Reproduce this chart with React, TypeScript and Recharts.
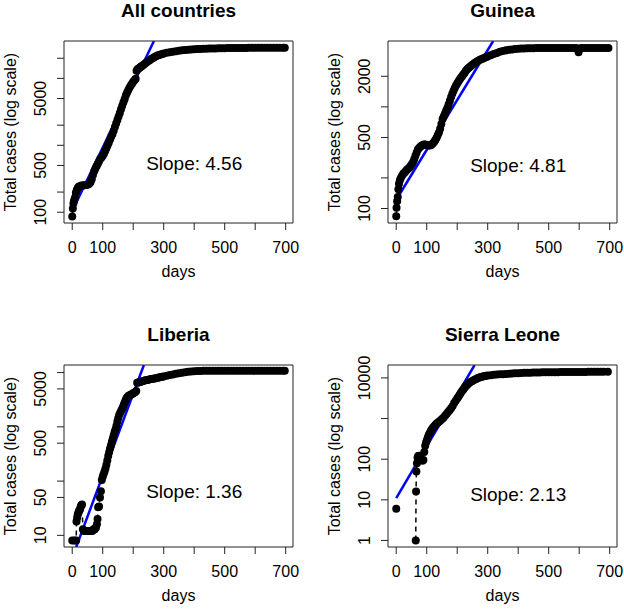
import React from 'react';
import { LineChart, Line, XAxis, YAxis, ReferenceArea, ReferenceDot } from 'recharts';

// [day, total cases]
const allCountries: [number, number][] = [
  [0, 86], [2, 114], [4, 135], [6, 150], [9, 165], [12, 195], [15, 215], [18, 230], [21, 240], [25, 245],
  [30, 250], [35, 250], [40, 252], [45, 255], [50, 258], [55, 264], [60, 280], [64, 310], [68, 360], [72, 410],
  [76, 450], [80, 490], [84, 530], [88, 580], [92, 630], [96, 660], [100, 700], [104, 750], [108, 820], [112, 900],
  [116, 1000], [120, 1100], [124, 1220], [128, 1350], [132, 1480], [136, 1650], [140, 1870], [144, 2120], [148, 2380], [152, 2700],
  [156, 3050], [160, 3450], [164, 3900], [168, 4400], [172, 4900], [176, 5600], [180, 6150], [184, 6700], [188, 7300], [192, 7800],
  [196, 8300], [200, 8900], [204, 9400], [208, 9900], [211, 13000], [214, 13700], [218, 14100], [222, 14600], [226, 15000], [230, 15500],
  [235, 16100], [240, 16800], [245, 17500], [250, 18200], [255, 18900], [260, 19600], [265, 20200], [270, 20800], [275, 21400], [280, 21900],
  [285, 22400], [290, 22800], [295, 23200], [300, 23600], [310, 24100], [320, 24600], [330, 25100], [340, 25500], [350, 25900], [360, 26300],
  [370, 26600], [380, 26900], [390, 27100], [400, 27300], [410, 27450], [420, 27600], [430, 27700], [440, 27800], [450, 27900], [460, 28000],
  [470, 28080], [480, 28150], [490, 28220], [500, 28300], [510, 28350], [520, 28400], [530, 28440], [540, 28480], [550, 28510], [560, 28540],
  [570, 28570], [580, 28590], [590, 28600], [600, 28600], [610, 28610], [620, 28620], [630, 28630], [640, 28630], [650, 28640], [660, 28640],
  [670, 28640], [680, 28640], [690, 28640], [697, 28640],
];

const guinea: [number, number][] = [
  [0, 84], [1, 102], [3, 118], [5, 130], [7, 155], [9, 175], [12, 190], [15, 200], [19, 210], [23, 220],
  [27, 225], [31, 232], [35, 240], [39, 246], [43, 252], [47, 262], [51, 272], [55, 285], [59, 305], [63, 330],
  [67, 355], [71, 380], [75, 395], [79, 405], [83, 415], [87, 422], [91, 426], [95, 426], [100, 422], [105, 418],
  [110, 416], [115, 422], [120, 435], [124, 450], [128, 470], [132, 495], [136, 525], [140, 560], [144, 610], [148, 680],
  [152, 760], [156, 810], [160, 860], [164, 920], [168, 980], [172, 1060], [176, 1150], [180, 1250], [184, 1350], [188, 1440],
  [192, 1530], [196, 1620], [200, 1700], [204, 1780], [208, 1860], [212, 1930], [216, 2000], [220, 2080], [224, 2160], [228, 2250],
  [232, 2330], [236, 2400], [240, 2460], [245, 2530], [250, 2600], [255, 2670], [260, 2740], [265, 2800], [270, 2860], [275, 2910],
  [280, 2960], [285, 3000], [290, 3050], [295, 3090], [300, 3140], [310, 3230], [320, 3320], [330, 3400], [340, 3480], [350, 3550],
  [360, 3600], [370, 3640], [380, 3680], [390, 3710], [400, 3730], [410, 3750], [420, 3760], [430, 3770], [440, 3780], [450, 3785],
  [460, 3790], [470, 3795], [480, 3800], [490, 3804], [500, 3804], [510, 3804], [520, 3804], [530, 3804], [540, 3804], [550, 3804],
  [560, 3804], [570, 3804], [580, 3804], [590, 3804], [598, 3450], [606, 3804], [616, 3804], [626, 3804], [636, 3804], [646, 3804],
  [656, 3804], [666, 3804], [676, 3804], [686, 3804], [696, 3804],
];

const liberia: [number, number][] = [
  [0, 8], [7, 8], [13, 8], [14, 18], [16, 21], [18, 24], [20, 26], [22, 28], [24, 29], [26, 31],
  [28, 34], [30, 36], [32, 37], [35, 13], [38, 12], [42, 12], [46, 12], [50, 12], [54, 12], [58, 12],
  [62, 12], [66, 12], [70, 13], [74, 13], [78, 14], [81, 16], [83, 20], [85, 33], [88, 34], [91, 50],
  [94, 65], [97, 105], [100, 120], [103, 135], [106, 150], [109, 170], [112, 200], [115, 240], [118, 290], [121, 340],
  [124, 400], [127, 460], [130, 530], [133, 610], [136, 700], [139, 800], [142, 900], [145, 1050], [148, 1250], [151, 1450],
  [154, 1650], [157, 1800], [160, 1950], [163, 2100], [166, 2300], [169, 2550], [172, 2800], [175, 3100], [178, 3350], [181, 3550],
  [184, 3700], [187, 3800], [190, 3850], [194, 3950], [198, 4100], [202, 4200], [206, 4350], [210, 4600], [213, 6500], [216, 6600],
  [220, 6650], [225, 6800], [230, 6950], [235, 7050], [240, 7200], [245, 7300], [250, 7400], [255, 7500], [260, 7600], [265, 7700],
  [270, 7800], [275, 7900], [280, 8000], [285, 8100], [290, 8250], [295, 8400], [300, 8500], [310, 8750], [320, 9000], [330, 9250],
  [340, 9500], [350, 9750], [360, 9950], [370, 10150], [380, 10350], [390, 10500], [400, 10600], [410, 10700], [420, 10750], [430, 10800],
  [440, 10800], [450, 10800], [460, 10800], [470, 10800], [480, 10800], [490, 10800], [500, 10800], [510, 10800], [520, 10800], [530, 10800],
  [540, 10800], [550, 10800], [560, 10800], [570, 10800], [580, 10800], [590, 10800], [600, 10800], [610, 10800], [620, 10800], [630, 10800],
  [640, 10800], [650, 10800], [660, 10800], [670, 10800], [680, 10800], [690, 10800], [697, 10800],
];

// null = no report between the first case and day 64 (breaks the line)
const sierraLeone: [number, number | null][] = [
  [0, 6], [30, null], [64, 1], [65, 16], [66, 50], [68, 80], [70, 110], [72, 120], [75, 122], [78, 118],
  [82, 100], [86, 92], [89, 95], [92, 150], [95, 215], [98, 260], [101, 300], [104, 350], [107, 400], [110, 440],
  [113, 490], [116, 540], [120, 590], [124, 640], [128, 690], [132, 740], [136, 790], [140, 840], [145, 900], [150, 970],
  [155, 1050], [160, 1170], [165, 1300], [170, 1450], [175, 1600], [180, 1800], [185, 2050], [190, 2400], [195, 2750], [200, 3100],
  [204, 3450], [208, 3850], [212, 4300], [216, 4750], [220, 5200], [224, 5700], [228, 6200], [232, 6700], [236, 7200], [240, 7600],
  [245, 8000], [250, 8400], [255, 8850], [260, 9300], [265, 9700], [270, 10100], [275, 10450], [280, 10700], [285, 10900], [290, 11100],
  [295, 11250], [300, 11400], [310, 11700], [320, 11950], [330, 12150], [340, 12300], [350, 12400], [360, 12500], [370, 12650], [380, 12800],
  [390, 12950], [400, 13100], [410, 13250], [420, 13350], [430, 13450], [440, 13500], [450, 13550], [460, 13600], [470, 13650], [480, 13700],
  [490, 13750], [500, 13790], [510, 13820], [520, 13850], [530, 13880], [540, 13910], [550, 13930], [560, 13960], [570, 13980], [580, 14000],
  [590, 14020], [600, 14040], [610, 14060], [620, 14080], [630, 14090], [640, 14100], [650, 14110], [660, 14115], [670, 14120], [680, 14122],
  [694, 14124],
];

// fitted lines (blue): start and end as seen in the plots
const allFit: [number, number][] = [[0, 104], [268, 36200]];
const guineaFit: [number, number][] = [[0, 122], [318, 4450]];
const liberiaFit: [number, number][] = [[13, 6.1], [235, 13800]];
const sierraFit: [number, number][] = [[0, 11], [257, 20800]];

const xTicks = [0, 100, 200, 300, 400, 500, 600, 700];
const xTickLabels = [0, 100, 300, 500, 700];

const FONT = '"Liberation Sans", Arial, Helvetica, sans-serif';
const AXIS = '#222';
const W = 300;
const H = 288;
const X_DOMAIN: [number, number] = [-27, 724];

const toRows = (pts: [number, number | null][]) => pts.map(([day, cases]) => ({ day, cases }));
const toFit = (pts: [number, number][]) => pts.map(([day, fit]) => ({ day, fit }));

const XTick = (props: any) => {
  const { x, y, payload } = props;
  return (
    <g>
      <line x1={x} x2={x} y1={y} y2={y + 7} stroke={AXIS} />
      {xTickLabels.includes(payload.value) && (
        <text x={x} y={y + 30} textAnchor="middle" fontSize={16} fill="#000">
          {payload.value}
        </text>
      )}
    </g>
  );
};

const makeYTick = (labels: number[]) => (props: any) => {
  const { x, y, payload } = props;
  return (
    <g>
      <line x1={x - 7} x2={x} y1={y} y2={y} stroke={AXIS} />
      {labels.includes(payload.value) && (
        <text transform={`translate(${x - 18},${y}) rotate(-90)`} textAnchor="middle" fontSize={16} fill="#000">
          {payload.value}
        </text>
      )}
    </g>
  );
};

interface PanelProps {
  left: number;
  top: number;
  title: string;
  rows: { day: number; cases: number | null }[];
  fit: { day: number; fit: number }[];
  yDomain: [number, number];
  yTicks: number[];
  yLabels: number[];
  slope: string;
  slopeY: number;
}

const Panel: React.FC<PanelProps> = ({ left, top, title, rows, fit, yDomain, yTicks, yLabels, slope, slopeY }) => (
  <div style={{ position: 'absolute', left, top, width: W, height: H }}>
    <LineChart width={W} height={H} margin={{ top: 41, right: 7, bottom: 0, left: 0 }}>
      <XAxis
        type="number"
        dataKey="day"
        domain={X_DOMAIN}
        ticks={xTicks}
        interval={0}
        allowDataOverflow
        height={65}
        tickSize={0}
        tickMargin={0}
        axisLine={false}
        tickLine={false}
        tick={<XTick />}
      />
      <YAxis
        type="number"
        scale="log"
        domain={yDomain}
        ticks={yTicks}
        interval={0}
        allowDataOverflow
        width={64}
        tickSize={0}
        tickMargin={0}
        axisLine={false}
        tickLine={false}
        tick={makeYTick(yLabels)}
      />
      <ReferenceArea
        x1={X_DOMAIN[0]}
        x2={X_DOMAIN[1]}
        y1={yDomain[0]}
        y2={yDomain[1]}
        fill="none"
        stroke={AXIS}
        strokeWidth={1}
        ifOverflow="visible"
      />
      <Line
        data={rows}
        dataKey="cases"
        stroke="#000"
        strokeWidth={1.5}
        strokeDasharray="5 4"
        dot={{ r: 4, fill: '#000', stroke: '#000', strokeWidth: 0 }}
        isAnimationActive={false}
      />
      <Line
        data={fit}
        dataKey="fit"
        stroke="#0000ff"
        strokeWidth={2.5}
        dot={false}
        isAnimationActive={false}
      />
      <ReferenceDot
        x={400}
        y={slopeY}
        r={0}
        fill="none"
        stroke="none"
        label={{ value: slope, position: 'center', fontSize: 19, fill: '#000' }}
      />
    </LineChart>
    <svg width={W} height={H} style={{ position: 'absolute', left: 0, top: 0, pointerEvents: 'none' }}>
      <text x={178.5} y={17} textAnchor="middle" fontSize={19} fontWeight="bold" fill="#000">
        {title}
      </text>
      <text x={178.5} y={277} textAnchor="middle" fontSize={16} fill="#000">
        days
      </text>
      <text transform="translate(16,132) rotate(-90)" textAnchor="middle" fontSize={16} fill="#000">
        Total cases (log scale)
      </text>
    </svg>
  </div>
);

export default function App() {
  return (
    <div style={{ position: 'absolute', left: 0, top: 0, width: 624, height: 612, background: '#fff', fontFamily: FONT }}>
      <Panel
        left={0}
        top={0}
        title="All countries"
        rows={toRows(allCountries)}
        fit={toFit(allFit)}
        yDomain={[69, 36200]}
        yTicks={[100, 200, 500, 1000, 2000, 5000, 10000, 20000]}
        yLabels={[100, 500, 5000]}
        slope="Slope: 4.56"
        slopeY={536}
      />
      <Panel
        left={324}
        top={0}
        title="Guinea"
        rows={toRows(guinea)}
        fit={toFit(guineaFit)}
        yDomain={[72, 4450]}
        yTicks={[100, 200, 500, 1000, 2000]}
        yLabels={[100, 500, 2000]}
        slope="Slope: 4.81"
        slopeY={265}
      />
      <Panel
        left={0}
        top={324}
        title="Liberia"
        rows={toRows(liberia)}
        fit={toFit(liberiaFit)}
        yDomain={[6.1, 13800]}
        yTicks={[10, 50, 100, 500, 1000, 5000, 10000]}
        yLabels={[10, 50, 500, 5000]}
        slope="Slope: 1.36"
        slopeY={64}
      />
      <Panel
        left={324}
        top={324}
        title="Sierra Leone"
        rows={toRows(sierraLeone)}
        fit={toFit(sierraFit)}
        yDomain={[0.69, 20800]}
        yTicks={[1, 10, 100, 1000, 10000]}
        yLabels={[1, 10, 100, 10000]}
        slope="Slope: 2.13"
        slopeY={13.5}
      />
    </div>
  );
}
